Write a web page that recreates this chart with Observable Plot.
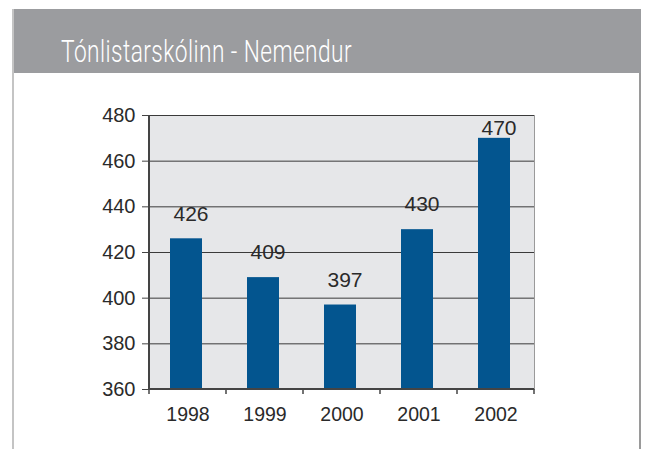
<!DOCTYPE html>
<html><head><meta charset="utf-8">
<script src="https://cdn.jsdelivr.net/npm/d3@7"></script>
<script src="https://cdn.jsdelivr.net/npm/@observablehq/plot@0.6"></script>
<style>
html,body{margin:0;padding:0;background:#fff}
body{width:645px;height:449px;position:relative;overflow:hidden;font-family:"Liberation Sans",Arial,sans-serif}
#header{position:absolute;left:12px;top:9px;width:629px;height:64px;background:#9b9c9f}
#title{position:absolute;left:61px;top:36px;color:#fff;font-family:Roboto,"Noto Sans",sans-serif;font-weight:300;font-size:31px;line-height:31px;white-space:nowrap;letter-spacing:0.6px;transform-origin:0 0}
#lb{position:absolute;left:12px;top:9px;width:2px;height:440px;background:#c4c4c4}
#rb{position:absolute;left:639px;top:73px;width:2px;height:376px;background:#9a9a9a}
#chart{position:absolute;left:0;top:90px}
</style></head>
<body>
<div id="header"></div>
<div id="lb"></div>
<div id="rb"></div>
<div id="title">Tónlistarskólinn - Nemendur</div>
<div id="chart"></div>
<script>
const years = ["1998", "1999", "2000", "2001", "2002"];
const students = [426, 409, 397, 430, 470];
const yTicks = [360, 380, 400, 420, 440, 460, 480];

const data = years.map((y, i) => ({year: y, n: students[i]}));

// condense title to the reference width
const titleEl = document.getElementById("title");
const tw = titleEl.getBoundingClientRect().width;
titleEl.style.transform = `scaleX(${291 / tw})`;

const plot = Plot.plot({
  width: 645, height: 349,
  marginLeft: 148, marginRight: 111, marginTop: 25, marginBottom: 50,
  style: {fontFamily: "'Liberation Sans', Arial, sans-serif", background: "transparent", color: "#2a2a2a", overflow: "visible"},
  x: {domain: years, padding: 0, label: null},
  y: {domain: [360, 480], label: null},
  marks: [
    Plot.frame({fill: "#e6e7e9", stroke: "#9a9a9a"}),
    Plot.ruleY(yTicks, {stroke: "#3a3a3a", strokeWidth: 1}),
    Plot.barY(data, {x: "year", y1: 360, y2: "n", fill: "#03558f", insetLeft: 21, insetRight: 24}),
    Plot.text(data, {x: "year", y: d => Math.min(d.n + 8, 471.5), text: d => String(d.n), dx: 3, lineAnchor: "bottom", fontSize: 21, fill: "#2a2a2a"}),
    Plot.axisY({ticks: yTicks, tickSize: 6, tickPadding: 7, fontSize: 20, stroke: "#444", fill: "#2a2a2a", label: null}),
    Plot.axisX({tickSize: 0, tickPadding: 18, fontSize: 19.5, fill: "#2a2a2a", label: null})
  ]
});
document.getElementById("chart").appendChild(plot);

// axis lines and band-boundary ticks from Plot's own scales
const sx = plot.scale("x"), sy = plot.scale("y");
const svg = d3.select(plot);
const yBottom = sy.apply(360), yTop = sy.apply(480);
const bounds = years.map(y => sx.apply(y)).concat([sx.apply(years[years.length - 1]) + sx.bandwidth]);
const g = svg.append("g").attr("stroke", "#444");
g.append("line").attr("x1", bounds[0]).attr("x2", bounds[0]).attr("y1", yTop).attr("y2", yBottom + 1).attr("stroke-width", 2);
g.append("line").attr("x1", bounds[0]).attr("x2", bounds[bounds.length - 1]).attr("y1", yBottom).attr("y2", yBottom).attr("stroke-width", 2);
g.selectAll(".bt").data(bounds).join("line").attr("x1", d => d).attr("x2", d => d).attr("y1", yBottom).attr("y2", yBottom + 5).attr("stroke-width", 1.5);
</script>
</body></html>
